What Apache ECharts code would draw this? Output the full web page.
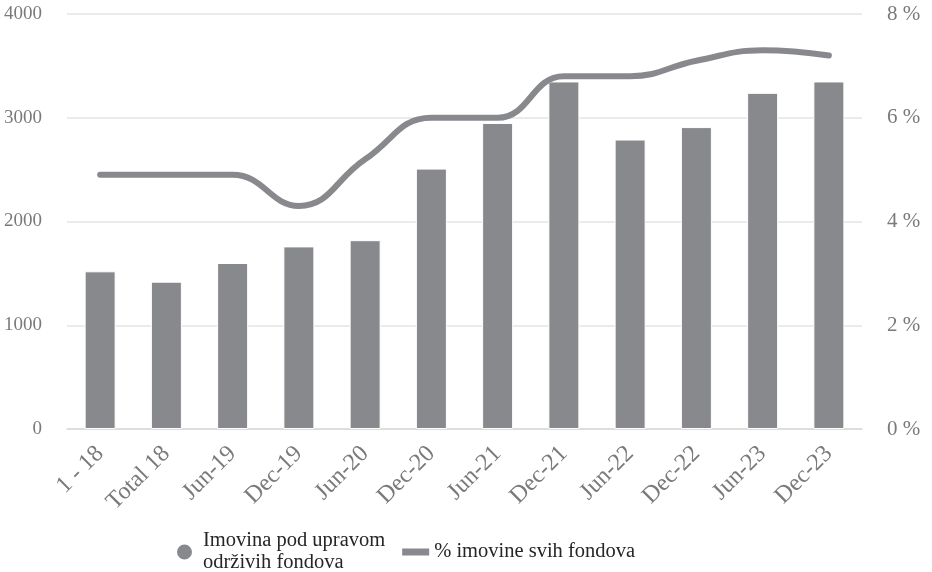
<!DOCTYPE html>
<html>
<head>
<meta charset="utf-8">
<script src="https://cdn.jsdelivr.net/npm/echarts@6/dist/echarts.min.js"></script>
<style>html,body{margin:0;padding:0;background:#fff}#c{width:932px;height:572px}</style>
</head>
<body>
<div id="c"></div>
<script>
var categories = ['1 - 18', 'Total 18', 'Jun-19', 'Dec-19', 'Jun-20', 'Dec-20', 'Jun-21', 'Dec-21', 'Jun-22', 'Dec-22', 'Jun-23', 'Dec-23'];
var assets = [1520, 1420, 1600, 1760, 1820, 2510, 2950, 3350, 2790, 2910, 3240, 3350];
var sharePct = [4.9, 4.9, 4.9, 4.3, 5.2, 6.0, 6.0, 6.8, 6.8, 7.1, 7.3, 7.2];
var barName = 'Imovina pod upravom\nodrživih fondova';
var lineName = '% imovine svih fondova';

var font = 'Liberation Serif';
var chart = echarts.init(document.getElementById('c'));
chart.setOption({
  animation: false,
  textStyle: { fontFamily: font },
  grid: { left: 67, right: 70, top: 14, bottom: 143, containLabel: false },
  legend: {
    left: 175, top: 530, padding: 0,
    itemWidth: 27, itemHeight: 17, itemGap: 17,
    textStyle: { fontFamily: font, fontSize: 20.5, color: '#262626', lineHeight: 22 },
    data: [
      { name: barName, icon: 'circle' },
      { name: lineName, icon: 'path://M0,0H27V7H0Z' }
    ]
  },
  xAxis: {
    type: 'category',
    data: categories,
    axisLine: { lineStyle: { color: '#d9d9d9', width: 1.5 } },
    axisTick: { show: false },
    axisLabel: { rotate: 45, fontFamily: font, fontSize: 24, color: '#7a7a7a', margin: 21, interval: 0 }
  },
  yAxis: [
    {
      type: 'value', min: 0, max: 4000, interval: 1000,
      axisLine: { show: false }, axisTick: { show: false },
      splitLine: { lineStyle: { color: '#e4e4e4', width: 1.5 } },
      axisLabel: { fontFamily: font, fontSize: 19, color: '#7a7a7a', margin: 25, formatter: function (v) { return String(v); } }
    },
    {
      type: 'value', min: 0, max: 8, interval: 2,
      axisLine: { show: false }, axisTick: { show: false },
      splitLine: { show: false },
      axisLabel: { fontFamily: font, fontSize: 21, color: '#7a7a7a', margin: 25, formatter: '{value} %' }
    }
  ],
  series: [
    {
      name: barName, type: 'bar', data: assets, barWidth: 31,
      itemStyle: { color: '#88898d', borderColor: '#ffffff', borderWidth: 1 }
    },
    {
      name: lineName, type: 'line', yAxisIndex: 1, data: sharePct,
      smooth: 0.45, symbol: 'none',
      lineStyle: { color: '#88898d', width: 6, cap: 'round', join: 'round' },
      itemStyle: { color: '#88898d' }
    }
  ]
});
</script>
</body>
</html>
